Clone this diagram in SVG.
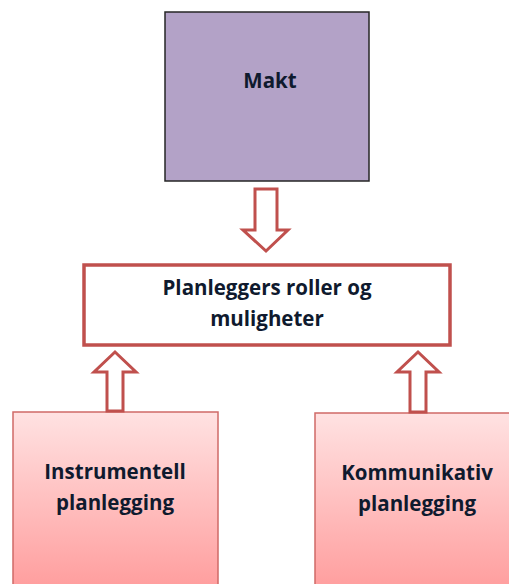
<svg xmlns="http://www.w3.org/2000/svg" width="509" height="584" viewBox="0 0 509 584">
  <style>
    .lbl { font-family: "Open Sans", "Liberation Sans", sans-serif; font-weight: 700; font-size: 20.5px; fill: #0f1a2e; text-anchor: middle; }
    .arrow { fill: #ffffff; stroke: #c0504d; stroke-width: 3; stroke-linejoin: miter; }
  </style>
  <defs>
    <linearGradient id="pinkFill" x1="0" y1="0" x2="0" y2="1">
      <stop offset="0" stop-color="#ffe2e2"/>
      <stop offset="1" stop-color="#ff9c9c"/>
    </linearGradient>
  </defs>
  <rect width="509" height="584" fill="#ffffff"/>

  <g id="makt">
    <rect x="165" y="12" width="204" height="169" fill="#b3a2c7" stroke="#262626" stroke-width="1.5"/>
    <text class="lbl" x="270" y="88">Makt</text>
  </g>

  <g id="roller">
    <rect x="84" y="265" width="366" height="80" fill="#ffffff" stroke="#c0504d" stroke-width="3.5"/>
    <text class="lbl" x="267" y="295">Planleggers roller og</text>
    <text class="lbl" x="267" y="326">muligheter</text>
  </g>

  <g id="instrumentell">
    <rect x="13" y="412" width="205" height="180" fill="url(#pinkFill)" stroke="#cf6a67" stroke-width="1.5"/>
    <text class="lbl" x="115" y="479">Instrumentell</text>
    <text class="lbl" x="115" y="510">planlegging</text>
  </g>

  <g id="kommunikativ">
    <rect x="315" y="413" width="205" height="180" fill="url(#pinkFill)" stroke="#cf6a67" stroke-width="1.5"/>
    <text class="lbl" x="417" y="480">Kommunikativ</text>
    <text class="lbl" x="417" y="511">planlegging</text>
  </g>

  <g id="connectors">
    <!-- block arrow down from Makt -->
    <path class="arrow" d="M255 189 H277 V230 H288 L266 251 L243 230 H255 Z"/>
    <!-- block arrow up from Instrumentell -->
    <path class="arrow" d="M107 411 V372 H94 L115 352 L136 372 H123 V411 Z"/>
    <!-- block arrow up from Kommunikativ -->
    <path class="arrow" d="M410 412 V372 H397 L418 352 L439 372 H426 V412 Z"/>
  </g>
</svg>
